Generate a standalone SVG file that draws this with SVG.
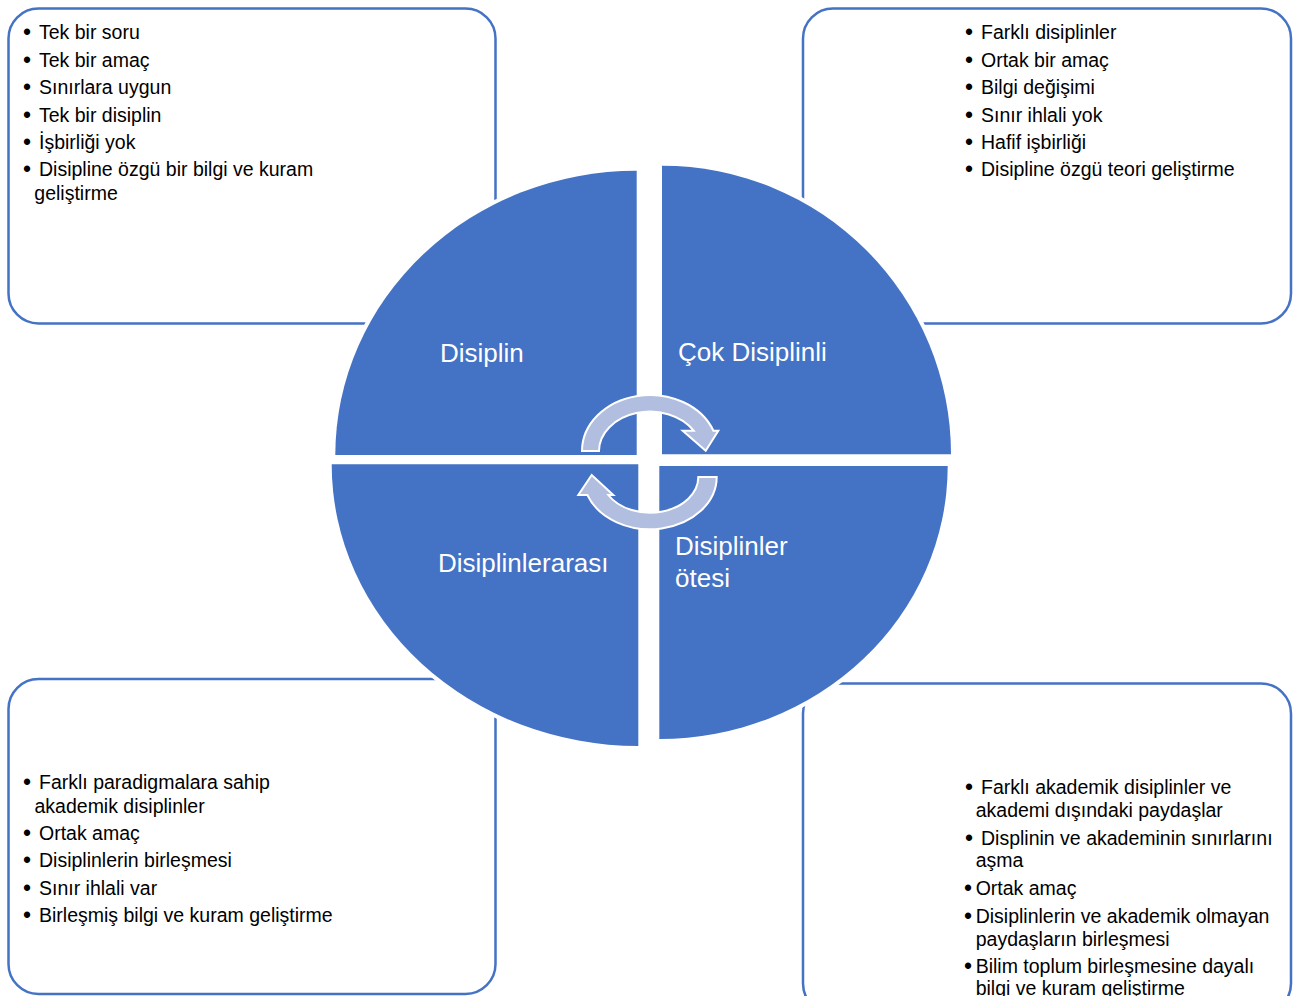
<svg xmlns="http://www.w3.org/2000/svg" width="1297" height="996" viewBox="0 0 1297 996">
<style>
.box{fill:#FFFFFF;stroke:#4472C4;stroke-width:2.5}
.quad{fill:#4472C4;stroke:#FFFFFF;stroke-width:8;paint-order:stroke}
.arrow{fill:#B1BEE0;stroke:#FFFFFF;stroke-width:2;stroke-linejoin:miter}
.t{font-family:"Liberation Sans",Arial,sans-serif;font-size:19.5px;fill:#000000}
.b{font-family:"Liberation Sans",Arial,sans-serif;font-size:23px;fill:#000000;text-anchor:middle}
.lbl{font-family:"Liberation Sans",Arial,sans-serif;font-size:26px;fill:#FFFFFF}
</style>
<rect width="1297" height="996" fill="#FFFFFF"/>

<g id="box-disiplin">
<rect class="box" x="8.5" y="8.5" width="487" height="315" rx="30" ry="30"/>
<text class="b" x="27" y="40">•</text><text class="t" x="39" y="39">Tek bir soru</text>
<text class="b" x="27" y="67.7">•</text><text class="t" x="39" y="66.7">Tek bir amaç</text>
<text class="b" x="27" y="95">•</text><text class="t" x="39" y="94">Sınırlara uygun</text>
<text class="b" x="27" y="122.7">•</text><text class="t" x="39" y="121.7">Tek bir disiplin</text>
<text class="b" x="27" y="150">•</text><text class="t" x="39" y="149">İşbirliği yok</text>
<text class="b" x="27" y="177">•</text><text class="t" x="39" y="176">Disipline özgü bir bilgi ve kuram</text>
<text class="t" x="34.3" y="200">geliştirme</text>
</g>

<g id="box-cok-disiplinli">
<rect class="box" x="803" y="8.5" width="488" height="315" rx="30" ry="30"/>
<text class="b" x="969" y="40">•</text><text class="t" x="981" y="39">Farklı disiplinler</text>
<text class="b" x="969" y="67.7">•</text><text class="t" x="981" y="66.7">Ortak bir amaç</text>
<text class="b" x="969" y="95">•</text><text class="t" x="981" y="94">Bilgi değişimi</text>
<text class="b" x="969" y="122.7">•</text><text class="t" x="981" y="121.7">Sınır ihlali yok</text>
<text class="b" x="969" y="150">•</text><text class="t" x="981" y="149">Hafif işbirliği</text>
<text class="b" x="969" y="177">•</text><text class="t" x="981" y="176">Disipline özgü teori geliştirme</text>
</g>

<g id="box-disiplinlerarasi">
<rect class="box" x="8.5" y="679" width="487" height="315" rx="30" ry="30"/>
<text class="b" x="27" y="790">•</text><text class="t" x="39" y="789">Farklı paradigmalara sahip</text>
<text class="t" x="34.5" y="812.7">akademik disiplinler</text>
<text class="b" x="27" y="841">•</text><text class="t" x="39" y="840">Ortak amaç</text>
<text class="b" x="27" y="868.3">•</text><text class="t" x="39" y="867.3">Disiplinlerin birleşmesi</text>
<text class="b" x="27" y="896">•</text><text class="t" x="39" y="895">Sınır ihlali var</text>
<text class="b" x="27" y="922.7">•</text><text class="t" x="39" y="921.7">Birleşmiş bilgi ve kuram geliştirme</text>
</g>

<g id="box-disiplinler-otesi">
<rect class="box" x="803" y="683.5" width="488" height="330" rx="30" ry="30"/>
<text class="b" x="969" y="795">•</text><text class="t" x="981" y="794">Farklı akademik disiplinler ve</text>
<text class="t" x="975.7" y="816.7">akademi dışındaki paydaşlar</text>
<text class="b" x="969" y="846">•</text><text class="t" x="981" y="845">Displinin ve akademinin sınırlarını</text>
<text class="t" x="975.7" y="867.3">aşma</text>
<text class="b" x="968" y="896">•</text><text class="t" x="975.7" y="895">Ortak amaç</text>
<text class="b" x="968" y="924.3">•</text><text class="t" x="975.7" y="923.3">Disiplinlerin ve akademik olmayan</text>
<text class="t" x="975.7" y="946">paydaşların birleşmesi</text>
<text class="b" x="968" y="974.3">•</text><text class="t" x="975.7" y="973.3">Bilim toplum birleşmesine dayalı</text>
<text class="t" x="975.7" y="995">bilgi ve kuram geliştirme</text>
</g>

<g id="quad-disiplin">
<path class="quad" d="M636.7 455 L335.3 455 A301.4 284.3 0 0 1 636.7 170.7 Z"/>
<text class="lbl" x="440" y="362">Disiplin</text>
</g>
<g id="quad-cok-disiplinli">
<path class="quad" d="M662 454.3 L662 165.7 A289 288.6 0 0 1 951 454.3 Z"/>
<text class="lbl" x="678" y="361">Çok Disiplinli</text>
</g>
<g id="quad-disiplinlerarasi">
<path class="quad" d="M638.3 464.3 L638.3 746 A306.6 281.7 0 0 1 331.7 464.3 Z"/>
<text class="lbl" x="438" y="572">Disiplinlerarası</text>
</g>
<g id="quad-disiplinler-otesi">
<path class="quad" d="M659.3 466 L947.7 466 A288.4 273 0 0 1 659.3 739 Z"/>
<text class="lbl" x="675" y="555">Disiplinler</text>
<text class="lbl" x="675" y="587">ötesi</text>
</g>

<g id="connectors">
<path class="arrow" d="M582 451 A68 56 0 0 1 713.4 430.7 L718.3 430.7 L705.7 450.7 L682.7 430.7 L693.7 430.7 A51 39.3 0 0 0 599 451 Z"/>
<path class="arrow" d="M716.7 477 A66.7 52.3 0 0 1 587.4 495 L578.3 495 L591.7 475 L613.3 495 L608.3 495 A48.3 35.7 0 0 0 698.3 477 Z"/>
</g>
</svg>
